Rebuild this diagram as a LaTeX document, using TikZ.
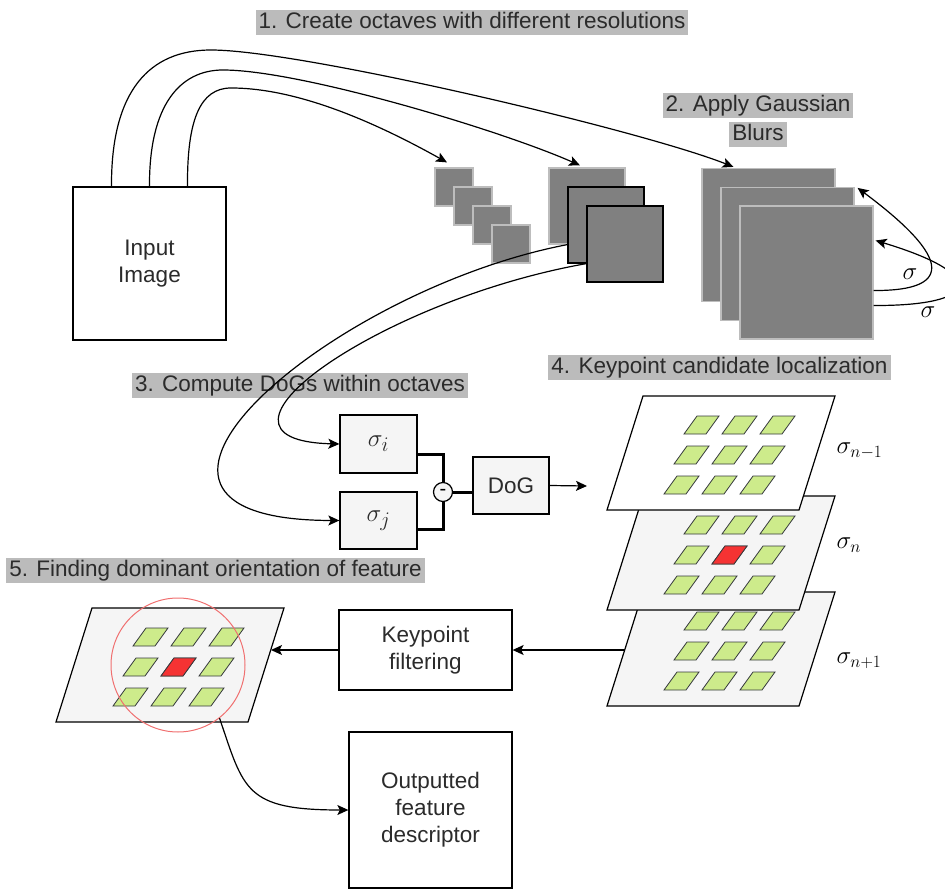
\documentclass[tikz,border=0pt]{standalone}
\usepackage{fontspec}
\setmainfont{Liberation Sans}
\usetikzlibrary{arrows.meta,calc}
\definecolor{txt}{HTML}{2B2B2B}
\definecolor{hl}{HTML}{BBBBBB}
\definecolor{sq}{HTML}{808080}
\definecolor{sqedge}{HTML}{BDBDBD}
\definecolor{boxfill}{HTML}{F5F5F5}
\definecolor{cellg}{HTML}{CDEB8B}
\definecolor{celle}{HTML}{36393D}
\definecolor{cellr}{HTML}{F53333}
\definecolor{ring}{HTML}{F07070}
\newcommand{\kplane}[3]{%
  \draw[line width=1.2pt,fill=#3] (#1,#2) -- (#1+192,#2) -- (#1+156,#2+114) -- (#1-36,#2+114) -- cycle;
  \foreach \r in {0,1,2}{\foreach \c in {0,1,2}{%
    \draw[cell,shift={(#1+54+38*\c-10*\r,#2+20+30*\r)}] (0,0) -- (22,0) -- (9,18) -- (-13,18) -- cycle;}}%
}
\begin{document}
\begin{tikzpicture}[x=1pt,y=-1pt,line width=1.2pt,
  >={Stealth[length=11pt,width=10pt,inset=2.5pt]},
  title/.style={fill=hl,text=txt,font=\fontsize{22.5}{27}\selectfont,inner xsep=3pt,inner ysep=1pt,text height=17.5pt,text depth=5.5pt},
  box/.style={draw,line width=1.3pt,text=txt,font=\fontsize{22.5}{27}\selectfont,align=center,inner sep=0pt},
  gsq/.style={fill=sq,draw=sqedge,line width=1.2pt,inner sep=0pt,minimum size=#1},
  cell/.style={fill=cellg,draw=celle,line width=0.8pt},
  redcell/.style={fill=cellr,draw=celle,line width=0.8pt},
  mlabel/.style={font=\fontsize{23}{26}\selectfont,inner sep=0pt}]
\path[use as bounding box] (0,0) rectangle (945,893);
\clip (0,0) rectangle (945,893);

% titles
\node[title] (t1) at (472,22.5) {1. Create octaves with different resolutions};
\node[title] (t2a) at (758,105.5) {2. Apply Gaussian};
\node[title] (t2b) at (758,134.5) {Blurs};
\node[title] (t3) at (300,385.5) {3. Compute DoGs within octaves};
\node[title] (t4) at (719.5,367) {4. Keypoint candidate localization};
\node[title] (t5) at (215.5,570.5) {5. Finding dominant orientation of feature};

% input image
\node[box,minimum width=153pt,minimum height=153pt] (in) at (149.5,263.5) {Input\\Image};

% small octave
\node[gsq=38pt] (s1) at (454,187) {};
\node[gsq=38pt] (s2) at (473,206) {};
\node[gsq=38pt] (s3) at (492,225) {};
\node[gsq=38pt] (s4) at (511,244) {};
% medium octave
\node[gsq=76pt] (m1) at (587,206) {};
\node[gsq=76pt,draw=black] (m2) at (606,225) {};
\node[gsq=76pt,draw=black] (m3) at (625,244) {};
% large octave
\node[gsq=133pt] (l1) at (768.5,235) {};
\node[gsq=133pt] (l2) at (787.5,254) {};
\node[gsq=133pt] (l3) at (806.5,272.5) {};

% octave arrows
\draw[->] ([xshift=38pt]in.north) .. controls (187,120) and (200,88) .. (231,88)
  .. controls (300,88) and (380,125) .. ([xshift=-7pt,yshift=5pt]s1.north);
\draw[->] (in.north) .. controls (149,105) and (180,70) .. (223,70)
  .. controls (300,70) and (500,130) .. ([xshift=-7pt,yshift=2pt]m1.north);
\draw[->] ([xshift=-38pt]in.north) .. controls (111,90) and (150,50) .. (211,50)
  .. controls (300,50) and (640,130) .. ([xshift=-35pt,yshift=1pt]l1.north);

% blur loops
\draw[->] ([yshift=-18pt]l3.east) .. controls (940,291) and (965,268) .. ([xshift=3pt,yshift=-1pt]l2.north east);
\draw[->] ([yshift=-33pt]l3.east) .. controls (980,306) and (990,275) .. ([xshift=2pt,yshift=32pt]l3.east);
\node[mlabel] (sg1) at (910,274) {$\sigma$};
\node[mlabel] (sg2) at (928,312) {$\sigma$};

% DoG part
\node[box,fill=boxfill,minimum width=77pt,minimum height=58pt,font=\fontsize{28}{30}\selectfont] (si) at (378.5,444) {$\sigma_i$};
\node[box,fill=boxfill,minimum width=77pt,minimum height=57pt,font=\fontsize{28}{30}\selectfont] (sj) at (378.5,520.5) {$\sigma_j$};
\node[box,fill=boxfill,minimum width=76pt,minimum height=57pt] (dog) at (511,485.5) {DoG};
\draw[->] (m2.west |- m1.south) .. controls (330,290) and (60,520) .. (sj.west);
\draw[->] (m3.west |- m2.south) .. controls (380,300) and (180,440) .. (si.west);
\draw[line width=3pt] ([yshift=-10pt]si.east) -| (443,483);
\draw[line width=3pt] ([yshift=-9pt]sj.east) -| (443,501);
\draw[line width=3pt] (443,492) -- (dog.west |- 443,492);
\node[circle,draw,line width=1.2pt,fill=boxfill,minimum size=19pt,inner sep=0pt,font=\fontsize{20}{20}\selectfont] (mn) at (443,492) {-};
\coordinate (pin) at (587,486);
\draw[->] (dog.east) -- (pin);

% keypoint planes
\kplane{643}{592}{boxfill}
\kplane{643}{496}{boxfill}
\draw[redcell,shift={(643+54+38-10,496+20+30)}] (0,0) -- (22,0) -- (9,18) -- (-13,18) -- cycle;
\kplane{643}{396}{white}
\node[mlabel,anchor=west] (ln1) at (836,451) {$\sigma_{n-1}$};
\node[mlabel,anchor=west] (ln2) at (836,545) {$\sigma_{n}$};
\node[mlabel,anchor=west] (ln3) at (836,661) {$\sigma_{n+1}$};

% keypoint filtering
\node[box,minimum width=173pt,minimum height=80pt] (kf) at (425.5,650) {Keypoint\\filtering};
\coordinate (p3left) at (625,650);
\draw[->] (p3left) -- (kf.east);

% orientation plane
\kplane{92}{608}{boxfill}
\draw[redcell,shift={(92+54+38-10,608+20+30)}] (0,0) -- (22,0) -- (9,18) -- (-13,18) -- cycle;
\node[circle,draw=ring,line width=1pt,minimum size=134pt,inner sep=0pt] (ring) at (178,665) {};
\coordinate (p5right) at (271,650);
\draw[->] (kf.west) -- (p5right);

% output
\node[box,minimum width=163pt,minimum height=156pt] (out) at (430.5,810) {Outputted\\feature\\descriptor};
\draw[->] (ring.-52) .. controls (244,790) and (245,810) .. (out.west);
\end{tikzpicture}
\end{document}
